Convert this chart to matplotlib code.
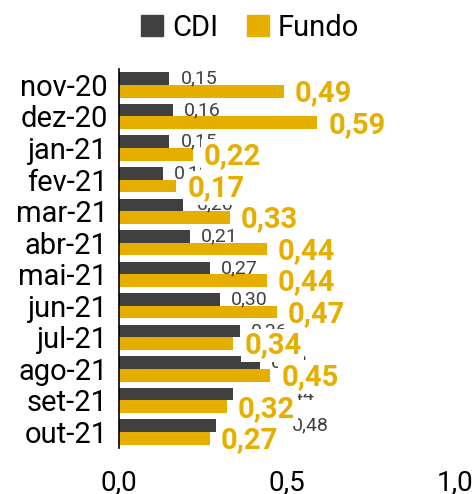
import matplotlib.pyplot as plt
import numpy as np
from matplotlib.patches import Patch

plt.rcParams['font.family'] = ['Roboto', 'DejaVu Sans']

# Data
months = ['nov-20', 'dez-20', 'jan-21', 'fev-21', 'mar-21', 'abr-21',
          'mai-21', 'jun-21', 'jul-21', 'ago-21', 'set-21', 'out-21']
cdi = [0.15, 0.16, 0.15, 0.13, 0.19, 0.21, 0.27, 0.30, 0.36, 0.42, 0.34, 0.29]
cdi_labels = [0.15, 0.16, 0.15, 0.13, 0.20, 0.21, 0.27, 0.30, 0.36, 0.42, 0.44, 0.48]
fundo = [0.49, 0.59, 0.22, 0.17, 0.33, 0.44, 0.44, 0.47, 0.34, 0.45, 0.32, 0.27]
xticks = [0.0, 0.5, 1.0]

gray = '#404040'
gold = '#E6AF00'

fig = plt.figure(figsize=(4.74, 4.94), dpi=100)
ax = fig.add_axes([0.251, 0.0936, 0.709, 0.7664])

y = np.arange(len(months))
h = 0.4
ax.barh(y - h/2, cdi, height=h, color=gray, zorder=2)
ax.barh(y + h/2, fundo, height=h, color=gold, zorder=2)

fmt = lambda v: f'{v:.2f}'.replace('.', ',')
for yi, v in zip(y, cdi_labels):
    ax.text(v + 0.033, yi - h/2, fmt(v), va='center', ha='left',
            fontsize=14, color=gray, zorder=3)
for yi, v in zip(y, fundo):
    ax.text(v + 0.033, yi + h/2 + 0.06, fmt(v), va='center', ha='left',
            fontsize=21, fontweight='bold', color=gold, zorder=4,
            bbox=dict(facecolor='white', edgecolor='none', pad=2))

ax.set_ylim(len(months) - 0.5, -0.5)
ax.set_xlim(0, 1.0)
ax.set_yticks(y)
ax.set_yticklabels(months, fontsize=21)
ax.set_xticks(xticks)
ax.set_xticklabels([fmt(t)[:-1] for t in xticks], fontsize=20)
ax.tick_params(axis='both', length=0)
ax.tick_params(axis='x', pad=15)
ax.tick_params(axis='y', pad=8)
for s in ['top', 'right', 'bottom']:
    ax.spines[s].set_visible(False)
ax.spines['left'].set_linewidth(1.2)

handles = [Patch(color=gray, label='CDI'), Patch(color=gold, label='Fundo')]
fig.legend(handles=handles, loc='upper center', bbox_to_anchor=(0.528, 1.025),
           ncol=2, frameon=False, fontsize=21, handlelength=0.75,
           handleheight=0.75, handletextpad=0.3, columnspacing=1.0)

fig.savefig('out.png', dpi=100)
